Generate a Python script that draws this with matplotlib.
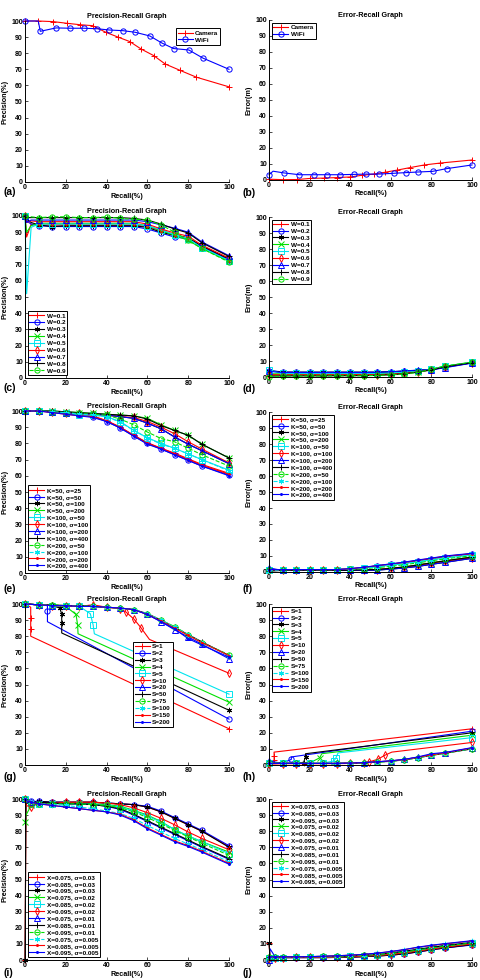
import matplotlib
matplotlib.use('Agg')
import matplotlib.pyplot as plt

plt.rcParams['font.family'] = ['Liberation Sans', 'DejaVu Sans']
plt.rcParams['font.weight'] = 'bold'

# ---------------- data ----------------
# common recall grid (markers every ~6.7 %)
R = [0, 6.7, 13.3, 20, 26.7, 33.3, 40, 46.7, 53.3, 60, 66.7, 73.3, 80, 86.7, 100]

# (a) / (b)  camera vs wifi
cam_x = [0, 6.5, 13.9, 20.4, 26.9, 33.1, 39.6, 45.4, 51.4, 56.9, 63.1, 68.7, 75.9, 84.0, 100]
cam_prec = [100, 100, 99.6, 98.6, 97.7, 97.1, 93.0, 90.1, 87.2, 82.6, 78.5, 73.3, 69.4, 65.1, 59.1]
wifi_x = [0, 6.5, 7.5, 15.2, 22.3, 28.9, 35.2, 41.4, 48.0, 54.0, 61.2, 67.0, 72.8, 80.3, 87.3, 100]
wifi_prec = [100, 100, 93.6, 95.7, 95.5, 95.5, 95.2, 94.4, 94.0, 93.0, 90.7, 86.4, 82.9, 82.0, 76.9, 70.0]
cam_err_x = [0, 7, 14, 20.4, 27, 33.3, 40, 45.6, 51.6, 57, 63.2, 69.3, 76.5, 84.4, 100]
cam_err = [0.5, 0.2, 0.3, 1.0, 1.2, 1.5, 1.9, 2.9, 3.7, 4.8, 6.2, 7.7, 9.4, 10.6, 12.5]
wifi_err_x = [0, 2, 7.5, 15, 22, 28.7, 35, 41.7, 48, 54.3, 61.4, 67.3, 73.4, 80.6, 87.5, 100]
wifi_err = [3.3, 5.5, 4.4, 3.3, 3.3, 3.3, 3.3, 3.5, 3.7, 3.7, 4.2, 4.6, 5.0, 5.4, 7.1, 9.4]

# (c) / (d)  weight W
w_labels = ['W=0.1', 'W=0.2', 'W=0.3', 'W=0.4', 'W=0.5', 'W=0.6', 'W=0.7', 'W=0.8', 'W=0.9']
Rc = [0, 0.8, 3, 6.7, 13.3, 20, 26.7, 33.3, 40, 46.7, 53.3, 60, 66.7, 73.3, 80, 86.7, 100]
w_prec = [
    [100, 87, 95, 94.5, 94.5, 94.5, 94.5, 94.5, 94.5, 94.5, 94.5, 93.5, 91, 88.5, 86.5, 81, 73],
    [100, 97, 95, 94, 93.5, 93.5, 93.5, 93.5, 93.5, 93.5, 93.5, 92, 89.5, 87, 86, 81, 73],
    [100, 98, 96, 94.5, 93.5, 94, 94, 94, 94, 94, 94, 93, 90, 88, 86.5, 81.5, 73.5],
    [100, 90, 94, 95.5, 95.5, 95.5, 95.5, 95.5, 95.5, 95.5, 95.5, 94, 91, 88, 85, 80, 72],
    [100, 52, 93, 95, 95, 95, 95, 95, 95, 95, 95, 94, 91.5, 88.5, 86, 80.5, 72.5],
    [100, 96, 97, 96.5, 96.5, 96.5, 96.5, 96.5, 96.5, 96.5, 96.5, 95, 92, 89.5, 87.5, 82, 74],
    [100, 96, 97.5, 97.5, 97.5, 97.5, 97.5, 97.5, 97.5, 97.5, 97.5, 96.5, 94.5, 92.5, 90, 84, 75.5],
    [100, 99, 99, 99, 99, 99, 99, 99, 99, 99, 98.5, 97.5, 95, 92, 89.5, 83.5, 75],
    [100, 99.5, 99.5, 99, 99.5, 99.5, 99, 99, 99.5, 98.5, 98, 97.5, 94.5, 90, 85, 80, 71.5],
]
w_err = [
    [1.5, 1.5, 1.5, 1.5, 1.5, 1.5, 1.5, 1.6, 1.7, 2.0, 2.5, 3.5, 4.8, 6.5, 9.0],
    [4.0, 3.2, 3.0, 3.0, 3.0, 3.0, 3.0, 3.0, 3.0, 3.2, 3.6, 4.0, 4.5, 6.0, 8.8],
    [4.0, 3.0, 3.0, 3.0, 3.0, 3.0, 3.0, 3.0, 3.0, 3.3, 3.7, 4.2, 4.8, 6.3, 8.9],
    [2.0, 2.0, 2.0, 2.0, 2.0, 2.0, 2.0, 2.0, 2.1, 2.3, 2.8, 3.4, 4.9, 6.7, 9.2],
    [4.2, 2.2, 2.2, 2.2, 2.2, 2.2, 2.2, 2.2, 2.3, 2.5, 3.0, 3.5, 4.9, 6.8, 9.1],
    [1.2, 1.2, 1.2, 1.2, 1.2, 1.2, 1.2, 1.3, 1.4, 1.8, 2.3, 3.2, 4.6, 6.4, 8.9],
    [3.5, 2.8, 2.8, 2.8, 2.8, 2.8, 2.8, 2.8, 2.9, 3.3, 3.8, 4.3, 4.5, 5.8, 8.7],
    [0.5, 0.7, 0.7, 0.7, 0.7, 0.8, 0.8, 0.9, 1.0, 1.4, 2.0, 3.0, 4.4, 6.4, 9.0],
    [0.3, 0.5, 0.6, 0.6, 0.6, 0.7, 0.7, 0.8, 1.0, 1.3, 1.9, 2.9, 4.8, 6.9, 9.3],
]

# (e) / (f)  K and sigma
k_labels = ['K=50, σ=25', 'K=50, σ=50', 'K=50, σ=100', 'K=50, σ=200',
            'K=100, σ=50', 'K=100, σ=100', 'K=100, σ=200', 'K=100, σ=400',
            'K=200, σ=50', 'K=200, σ=100', 'K=200, σ=200', 'K=200, σ=400']
k_prec = [
    [100, 100, 99.5, 98.5, 97.5, 97, 94, 90, 85, 80.5, 77, 74, 70.5, 67, 61.5],
    [100, 100, 99.5, 98.5, 97.5, 96.5, 93.5, 89.5, 84.5, 80, 76.5, 73, 69.5, 66, 60.5],
    [100, 100, 99.5, 99, 98.5, 98, 97.5, 96.5, 95.5, 92.5, 89, 84, 79.5, 75.5, 67.5],
    [100, 100, 100, 99.5, 99, 98.5, 98, 97.5, 97, 95.5, 91.5, 88, 85, 79.5, 71],
    [100, 100, 99.5, 98.5, 97.5, 97.5, 96.5, 93.5, 88, 83.5, 80, 77, 73.5, 70, 63.5],
    [100, 100, 99.5, 99, 98.5, 98, 97.5, 96.5, 96, 93.5, 90, 86, 81, 76.5, 68],
    [100, 100, 99.5, 99, 98.5, 98, 97.5, 96.5, 95.5, 92.5, 89, 84, 79.5, 75.5, 67.5],
    [100, 100, 100, 99.5, 99, 98.5, 98, 97.5, 97, 95, 91, 88, 85, 79.5, 71],
    [100, 100, 99.5, 99, 98.5, 98, 97.5, 95, 91.5, 87, 83, 81, 77, 73, 66],
    [100, 100, 99.5, 99, 98, 97.5, 96.5, 93, 88, 83.5, 79.5, 77, 73.5, 70, 63],
    [100, 100, 99, 98, 97, 96.5, 94, 90, 85, 80, 77, 73.5, 70, 66.5, 61],
    [100, 100, 99, 98, 97, 96, 93.5, 89.5, 84.5, 79.5, 76.5, 73, 69.5, 66, 60],
]
k_err = [
    [1.5, 1.5, 1.5, 1.5, 1.5, 1.5, 2.0, 2.8, 3.8, 4.8, 5.8, 7, 8.2, 9.5, 11.3],
    [1.5, 1.5, 1.5, 1.5, 1.5, 1.5, 2.0, 2.8, 3.9, 4.9, 5.9, 7.1, 8.3, 9.6, 11.4],
    [2, 1, 1, 1, 1, 1, 1, 1, 1.2, 1.8, 2.5, 3.5, 4.8, 6, 8.6],
    [1, 1.2, 1.2, 1.2, 1.2, 1.2, 1.2, 1.3, 1.5, 2.3, 3.2, 4.5, 5.8, 7, 9.5],
    [1.5, 1.5, 1.5, 1.5, 1.5, 1.5, 1.8, 2.3, 3.3, 4.2, 5.2, 6.3, 7.5, 8.7, 10.5],
    [1, 1, 1, 1, 1, 1, 1.1, 1.2, 1.5, 2.2, 3, 4.2, 5.5, 6.8, 9],
    [2.5, 1, 1, 1, 1, 1, 1, 1, 1.2, 1.8, 2.6, 3.5, 4.8, 6, 8.5],
    [0.5, 1, 1, 1, 1, 1, 1.1, 1.3, 1.6, 2.3, 3.2, 4.4, 5.7, 7, 9.3],
    [1, 1.5, 1.5, 1.5, 1.5, 1.5, 1.7, 2.1, 2.8, 3.5, 4.6, 5.7, 7, 8.2, 10.2],
    [0.5, 1.5, 1.5, 1.5, 1.5, 1.5, 1.8, 2.4, 3.3, 4.3, 5.3, 6.5, 7.8, 9, 10.8],
    [1.5, 1.5, 1.5, 1.5, 1.5, 1.5, 2, 2.9, 3.9, 5, 6, 7.3, 8.5, 9.8, 11.5],
    [1.5, 1.5, 1.5, 1.5, 1.5, 1.5, 2.1, 3, 4, 5.1, 6.2, 7.5, 8.7, 10, 11.7],
]

# (g) / (h)  S (each curve has its own recall points)
s_labels = ['S=1', 'S=2', 'S=3', 'S=4', 'S=5', 'S=10', 'S=20', 'S=50', 'S=75', 'S=100', 'S=150', 'S=200']
s_prec_x = [
    [0, 2.8, 2.8, 2.8, 2.8, 100],
    [0, 6.7, 11, 11, 11, 100],
    [0, 6.7, 13.3, 17, 18, 18, 18, 100],
    [0, 6.7, 13.3, 20, 25, 25.8, 26, 100],
    [0, 6.7, 13.3, 20, 26.7, 32, 33.4, 34, 100],
    [0, 6.7, 13.3, 20, 26.7, 33.3, 40, 46.7, 49.5, 53.5, 57, 61, 100],
] + [R] * 6
s_prec = [
    [100, 98, 91.5, 84.5, 80, 22.5],
    [100, 99.5, 99, 95.5, 89, 28.5],
    [100, 99.5, 99, 97.5, 94, 88, 82, 34],
    [100, 99.5, 99, 98.5, 93.5, 87, 81.5, 39],
    [100, 99.5, 99, 99, 98.5, 94, 87, 81.5, 44],
    [100, 99.5, 99, 99, 98.5, 99.5, 98, 97, 95, 90.5, 85, 78, 57],
    [100, 99.5, 99, 99, 98.5, 98.5, 98, 97.5, 96.5, 93.5, 89, 84, 79.5, 75, 66],
    [100, 99.5, 99.5, 99, 99, 98.5, 98, 97.5, 96.5, 94, 90, 85.5, 81, 76.5, 68],
    [100, 99.5, 99.5, 99, 99, 98.5, 98, 97.5, 96.5, 94, 90, 86, 81, 76, 68.5],
    [100, 99.5, 99, 99, 98.5, 98.5, 98, 97.5, 96.5, 94, 90, 85.5, 81, 76, 68],
    [100, 99.5, 99, 99, 98.5, 98.5, 98, 97.5, 96.5, 93.5, 89.5, 85, 80.5, 76, 68],
    [100, 99.5, 99, 99, 98.5, 98.5, 98, 97.5, 96.5, 93.5, 89, 84.5, 78.5, 74.5, 67],
]
s_prec_marks = [[0, 2, 3, 5], [0, 1, 3, 5], [0, 1, 2, 3, 4, 5, 7], [0, 1, 2, 3, 4, 5, 7],
                [0, 1, 2, 3, 4, 5, 6, 8], [0, 1, 2, 3, 4, 5, 6, 7, 8, 9, 10, 12]] + [None] * 6
s_err_x = [
    [0, 2.5, 2.5, 2.5, 2.5, 100],
    [0, 6.7, 11, 11, 100],
    [0, 6.7, 13.3, 17, 18, 18, 100],
    [0, 6.7, 13.3, 20, 25, 26, 100],
    [0, 6.7, 13.3, 20, 26.7, 32, 33, 34, 100],
    [0, 6.7, 13.3, 20, 26.7, 33.3, 40, 46.7, 49.5, 53.5, 57, 60.5, 100],
] + [R] * 6
s_err = [
    [0.5, 1, 3, 5.5, 8, 22.5],
    [1, 1.2, 3.5, 5, 21],
    [1, 1, 1.2, 1.5, 5, 7, 20],
    [1, 1, 1, 1.2, 4.5, 7, 18.5],
    [1, 1, 1, 1, 1.2, 2.5, 4.5, 7.5, 17],
    [0.5, 0.8, 0.8, 0.8, 0.8, 0.8, 1, 1.3, 2, 3.5, 6, 8, 14],
    [2.5, 1, 1, 1, 1, 1, 1.2, 1.5, 2, 2.5, 3.5, 4.8, 6.5, 7.5, 10.5],
    [1, 1, 1, 1, 1, 1, 1.2, 1.4, 1.8, 2.3, 3.2, 4.5, 6, 7.3, 10],
    [1.5, 1, 1, 1, 1, 1, 1.2, 1.4, 1.8, 2.3, 3.2, 4.5, 6, 7.3, 10.2],
    [1, 1, 1, 1, 1, 1, 1.2, 1.5, 1.9, 2.4, 3.3, 4.6, 6.2, 7.5, 10.3],
    [1, 1, 1, 1, 1, 1, 1.2, 1.5, 2, 2.5, 3.4, 4.8, 6.3, 7.6, 10.6],
    [1, 1, 1, 1, 1, 1, 1.2, 1.5, 2, 2.6, 3.5, 5, 7, 7.8, 10.8],
]
s_err_marks = [[0, 2, 3, 5], [0, 1, 2, 4], [0, 1, 2, 3, 4, 6], [0, 1, 2, 3, 4, 6],
               [0, 1, 2, 3, 4, 5, 6, 8], [0, 1, 2, 3, 4, 5, 6, 7, 8, 9, 10, 12]] + [None] * 6

# (i) / (j)  X and sigma
x_labels = ['X=0.075, σ=0.03', 'X=0.085, σ=0.03', 'X=0.095, σ=0.03',
            'X=0.075, σ=0.02', 'X=0.085, σ=0.02', 'X=0.095, σ=0.02',
            'X=0.075, σ=0.01', 'X=0.085, σ=0.01', 'X=0.095, σ=0.01',
            'X=0.075, σ=0.005', 'X=0.085, σ=0.005', 'X=0.095, σ=0.005']
Ri = [0, 0.5, 3, 6.7, 13.3, 20, 26.7, 33.3, 40, 46.7, 53.3, 60, 66.7, 73.3, 80, 86.7, 100]
x_prec = [
    [0, 97, 98, 98.5, 98, 98, 98, 98, 97.5, 97, 96.5, 95, 92, 88, 84, 80, 70.5],
    [100, 99, 98.5, 98.5, 98, 98, 98, 98, 97.5, 97, 96.5, 95.5, 92.5, 88.5, 84.5, 80.5, 71],
    [0, 97, 98, 98.5, 98, 98, 98, 98, 97.5, 97, 96.5, 95, 92, 88, 84, 80, 70],
    [86, 90, 96, 97, 97.5, 97.5, 97.5, 97, 96.5, 95.5, 93, 90, 86, 81, 77, 73.5, 67],
    [100, 98, 97, 97, 97, 97, 97, 96.5, 96, 95, 92.5, 89.5, 85.5, 81, 77, 73.5, 66],
    [100, 96, 95, 97.5, 97.5, 98, 98, 98, 97.5, 96.5, 94.5, 91.5, 88, 84, 79.5, 75.5, 68.5],
    [100, 99, 98, 98, 97.5, 97, 97, 96.5, 95.5, 93.5, 90, 86, 82, 78, 74, 70, 62.5],
    [100, 99, 98, 98, 97.5, 97, 97, 96.5, 95.5, 94, 90.5, 86.5, 82.5, 78.5, 74.5, 70.5, 63],
    [100, 99, 97, 97, 97, 97, 97, 96.5, 96, 94.5, 92, 88.5, 84.5, 80.5, 76.5, 72.5, 65],
    [100, 99, 98, 97, 96.5, 96, 95, 94, 92.5, 91, 88, 83.5, 79.5, 75.5, 72, 68.5, 61],
    [100, 99, 98, 97, 96, 95, 94, 93, 92, 90.5, 87, 82, 78, 74, 71, 67.5, 60],
    [100, 99, 98, 97, 96, 95, 94, 93, 92, 90, 86.5, 81.5, 77.5, 73.5, 70.5, 67, 59.5],
]
x_err = [
    [10.5, 2, 1.5, 1.5, 1.5, 1.5, 1.5, 1.6, 1.8, 2.1, 2.5, 3, 3.8, 5, 6.3, 7.5, 9.5],
    [1.5, 1.5, 1.5, 1.5, 1.5, 1.5, 1.5, 1.6, 1.8, 2.1, 2.5, 3, 3.8, 5, 6.3, 7.5, 9.3],
    [10.5, 2, 1.5, 1.5, 1.5, 1.5, 1.5, 1.6, 1.8, 2.1, 2.5, 3, 3.9, 5.1, 6.4, 7.6, 9.6],
    [1.5, 1.5, 1.5, 1.5, 1.6, 1.7, 1.8, 2, 2.2, 2.5, 3, 3.6, 4.6, 5.8, 7, 8.2, 10.2],
    [1.5, 1.5, 1.5, 1.5, 1.6, 1.7, 1.8, 2, 2.2, 2.6, 3.1, 3.8, 4.8, 6, 7.2, 8.4, 10.4],
    [1.5, 1.5, 1.5, 1.5, 1.6, 1.7, 1.8, 1.9, 2.1, 2.4, 2.9, 3.5, 4.4, 5.6, 6.8, 8, 10],
    [0, 7, 2, 2, 2, 2.1, 2.2, 2.4, 2.6, 3, 3.6, 4.4, 5.4, 6.6, 7.8, 9, 11],
    [2, 2, 2, 2, 2, 2.1, 2.2, 2.4, 2.6, 3, 3.6, 4.4, 5.4, 6.6, 7.8, 9, 10.8],
    [2, 2, 2, 2, 2, 2.1, 2.2, 2.3, 2.5, 2.9, 3.4, 4.1, 5, 6.2, 7.4, 8.6, 10.6],
    [2, 2, 2, 2, 2, 2.1, 2.3, 2.6, 3, 3.4, 4.1, 5, 6.2, 7.6, 8.8, 9.9, 11.6],
    [2, 2, 2, 2, 2, 2.1, 2.3, 2.6, 3, 3.5, 4.2, 5.2, 6.4, 7.8, 9, 10, 11.8],
    [2, 2, 2, 2, 2, 2.1, 2.3, 2.6, 3, 3.5, 4.3, 5.3, 6.5, 8, 9.2, 10.2, 12],
]

# ---------------- styling (MATLAB-like) ----------------
RED, BLUE, BLACK, GREEN, CYAN = '#ff0000', '#0000ff', '#000000', '#00e000', '#00e5ee'
ASTER = (6, 2, 0)
STYLES = [(RED, '+', '-'), (BLUE, 'o', '-'), (BLACK, ASTER, '-'), (GREEN, 'x', '-'),
          (CYAN, 's', '-'), (RED, 'd', '-'), (BLUE, '^', '-'), (BLACK, '+', '-'),
          (GREEN, 'o', '--'), (CYAN, ASTER, '--'), (RED, '.', '-'), (BLUE, '.', '-')]

FS_TICK, FS_LAB, FS_LEG, FS_PANEL = 5, 5.2, 4.6, 7.5


def draw(ax, x, y, i, label, marks=None):
    c, m, ls = STYLES[i]
    hollow = m in ('o', 's', 'd', '^')
    ms = 2.8 if m == '.' else 3.8
    ax.plot(x, y, color=c, ls=ls, lw=0.8, marker=m, ms=ms,
            mfc='none' if hollow else c, mec=c, mew=0.7,
            markevery=marks, label=label, clip_on=False)


def style_axes(ax, title, ylabel):
    ax.set_xlim(0, 100)
    ax.set_ylim(0, 100)
    ax.set_xticks(range(0, 101, 20))
    ax.set_yticks(range(0, 101, 10))
    ax.tick_params(direction='in', length=2, width=0.5, labelsize=FS_TICK, pad=1.5)
    for t in ax.get_xticklabels() + ax.get_yticklabels():
        t.set_fontweight('bold')
    for s in ('top', 'right'):
        ax.spines[s].set_visible(False)
    for s in ('left', 'bottom'):
        ax.spines[s].set_linewidth(0.7)
    ax.set_title(title, fontsize=FS_LAB, fontweight='bold', pad=2)
    ax.set_xlabel('Recall(%)', fontsize=FS_LAB, fontweight='bold', va='center')
    ax.set_ylabel(ylabel, fontsize=FS_LAB, fontweight='bold', va='center')
    ax.xaxis.set_label_coords(0.5, -0.087)
    ax.yaxis.set_label_coords(-0.098, 0.5)


def legend(ax, **kw):
    opts = dict(fontsize=FS_LEG, frameon=True, fancybox=False, edgecolor='black',
                framealpha=1, handlelength=2.3, handletextpad=0.4, labelspacing=0.22,
                borderpad=0.3, borderaxespad=0.4)
    opts.update(kw)
    lg = ax.legend(**opts)
    lg.get_frame().set_linewidth(0.7)
    for t in lg.get_texts():
        t.set_fontweight('bold')
    return lg


W, H = 481, 980
fig = plt.figure(figsize=(W / 100, H / 100), dpi=100)

# axes boxes in pixels: left, top, right, bottom
boxes = {
    'a': (25, 21, 229, 182), 'b': (269, 20, 472, 180),
    'c': (25, 216, 229, 378), 'd': (269, 217, 472, 377),
    'e': (25, 411, 229, 573), 'f': (269, 412, 472, 572),
    'g': (25, 604, 229, 765), 'h': (269, 604, 472, 765),
    'i': (25, 799, 229, 960), 'j': (269, 799, 472, 960),
}
panel_pos = {
    'a': (3, 192), 'b': (243, 193), 'c': (3, 388), 'd': (243, 389),
    'e': (3, 589), 'f': (243, 589), 'g': (3, 777), 'h': (243, 777),
    'i': (3, 973), 'j': (243, 973),
}
axs = {}
for k, (l, t, r, b) in boxes.items():
    axs[k] = fig.add_axes([l / W, 1 - b / H, (r - l) / W, (b - t) / H])
    px, py = panel_pos[k]
    fig.text(px / W, 1 - py / H, '(%s)' % k, fontsize=FS_PANEL, fontweight='bold', va='center')

PR, ER = 'Precision-Recall Graph', 'Error-Recall Graph'

# (a)
ax = axs['a']
draw(ax, cam_x, cam_prec, 0, 'Camera')
draw(ax, wifi_x, wifi_prec, 1, 'WiFi', marks=[0] + list(range(2, len(wifi_x))))
style_axes(ax, PR, 'Precision(%)')
legend(ax, loc='upper right', bbox_to_anchor=(0.97, 0.97))

# (b)
ax = axs['b']
draw(ax, cam_err_x, cam_err, 0, 'Camera')
draw(ax, wifi_err_x, wifi_err, 1, 'WiFi', marks=[0] + list(range(2, len(wifi_err_x))))
style_axes(ax, ER, 'Error(m)')
legend(ax, loc='upper left', bbox_to_anchor=(0.0, 1.0))

# (c) / (d)
c_marks = [0] + list(range(3, len(Rc)))
for i, lab in enumerate(w_labels):
    draw(axs['c'], Rc, w_prec[i], i, lab, marks=c_marks)
    draw(axs['d'], R, w_err[i], i, lab)
style_axes(axs['c'], PR, 'Precision(%)')
legend(axs['c'], loc='lower left', bbox_to_anchor=(0.0, 0.0))
style_axes(axs['d'], ER, 'Error(m)')
legend(axs['d'], loc='upper left', bbox_to_anchor=(0.0, 1.0))

# (e) / (f)
for i, lab in enumerate(k_labels):
    draw(axs['e'], R, k_prec[i], i, lab)
    draw(axs['f'], R, k_err[i], i, lab)
style_axes(axs['e'], PR, 'Precision(%)')
legend(axs['e'], loc='lower left', bbox_to_anchor=(0.0, 0.0))
style_axes(axs['f'], ER, 'Error(m)')
legend(axs['f'], loc='upper left', bbox_to_anchor=(0.0, 1.0))

# (g) / (h)
for i, lab in enumerate(s_labels):
    draw(axs['g'], s_prec_x[i], s_prec[i], i, lab, marks=s_prec_marks[i])
    draw(axs['h'], s_err_x[i], s_err[i], i, lab, marks=s_err_marks[i])
style_axes(axs['g'], PR, 'Precision(%)')
legend(axs['g'], loc='upper left', bbox_to_anchor=(0.53, 0.765), borderaxespad=0)
style_axes(axs['h'], ER, 'Error(m)')
legend(axs['h'], loc='upper left', bbox_to_anchor=(0.0, 1.0))

# (i) / (j)
i_marks = [0] + list(range(2, len(Ri)))
for i, lab in enumerate(x_labels):
    draw(axs['i'], Ri, x_prec[i], i, lab, marks=i_marks)
    draw(axs['j'], Ri, x_err[i], i, lab, marks=i_marks)
style_axes(axs['i'], PR, 'Precision(%)')
legend(axs['i'], loc='lower left', bbox_to_anchor=(0.0, 0.0))
style_axes(axs['j'], ER, 'Error(m)')
legend(axs['j'], loc='upper left', bbox_to_anchor=(0.0, 1.0))

fig.savefig('out.png', dpi=100)
